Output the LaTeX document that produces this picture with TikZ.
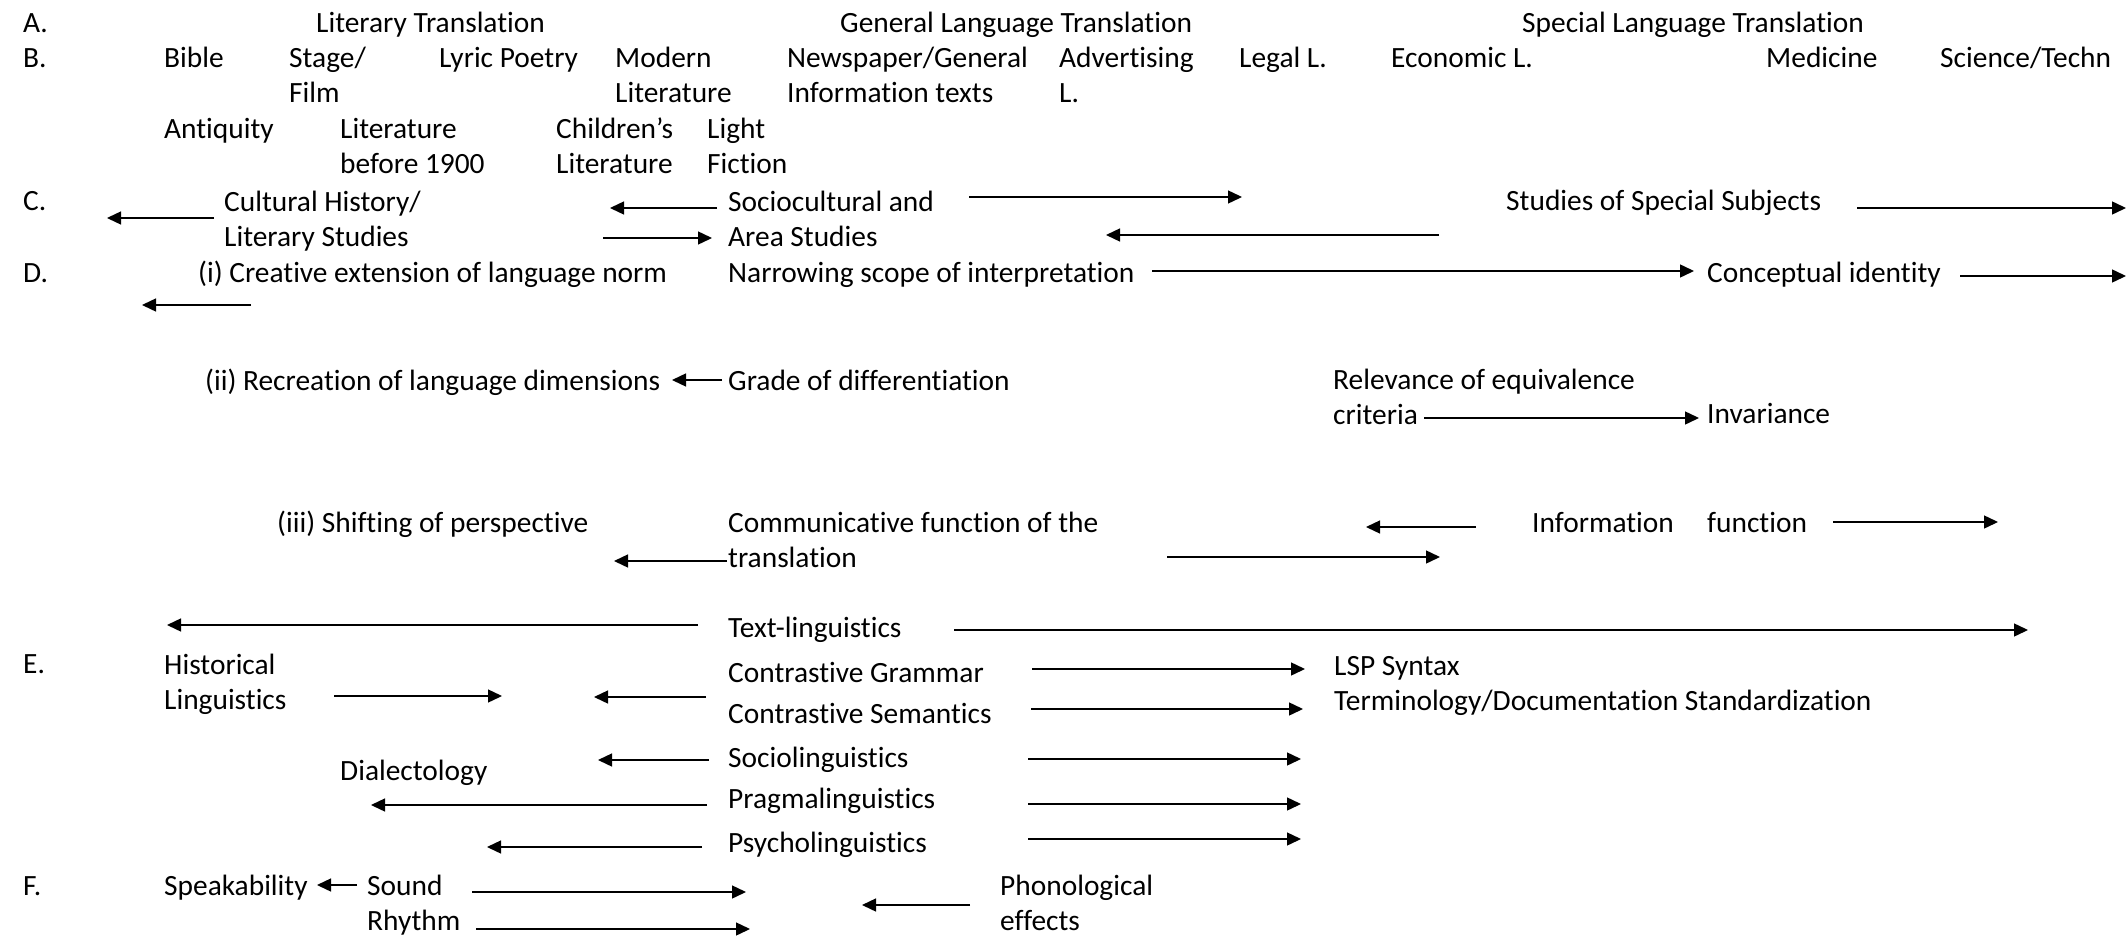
\documentclass[tikz,border=0pt]{standalone}
\usepackage{fontspec}
\setmainfont{Carlito}[Ligatures={NoCommon}]
\usepackage{tikz}
\usetikzlibrary{arrows.meta, positioning}
\tikzstyle{lbl} = [anchor=base west, inner sep=0pt, align=left, font=\fontsize{29.4}{35}\selectfont]
\tikzstyle{arrow} = [line width=1.4pt, -{Triangle[length=14pt,width=13pt]}]

\begin{document}
\begin{tikzpicture}[x=1pt, y=-1pt]
    \useasboundingbox (0,0) rectangle (2127,936);

    % Row letters
    \node (rowA) [lbl] at (23,33) {A.};
    \node (rowB) [lbl] at (23,68) {B.};
    \node (rowC) [lbl] at (23,211) {C.};
    \node (rowD) [lbl] at (23,282) {D.};
    \node (rowE) [lbl] at (23,673) {E.};
    \node (rowF) [lbl] at (23,895) {F.};

    % A. kinds of translation
    \node (littrans) [lbl] at (316,33) {Literary Translation};
    \node (gentrans) [lbl] at (840,33) {General Language Translation};
    \node (spectrans) [lbl] at (1522,33) {Special Language Translation};

    % B. text types (two-line nodes sit on their last line)
    \node (bible) [lbl] at (164,68) {Bible};
    \node (stage) [lbl] at (289,103) {Stage/\\Film};
    \node (lyric) [lbl] at (439,68) {Lyric Poetry};
    \node (modern) [lbl] at (615,103) {Modern\\Literature};
    \node (news) [lbl] at (787,103) {Newspaper/General\\Information texts};
    \node (advert) [lbl] at (1059,103) {Advertising\\L.};
    \node (legal) [lbl] at (1239,68) {Legal L.};
    \node (econ) [lbl] at (1391,68) {Economic L.};
    \node (medicine) [lbl] at (1766,68) {Medicine};
    \node (scitech) [lbl] at (1940,68) {Science/Techn};
    \node (antiq) [lbl] at (164,139) {Antiquity};
    \node (litold) [lbl] at (340,174) {Literature\\before 1900};
    \node (children) [lbl] at (556,174) {Children's\\Literature};
    \node (light) [lbl] at (707,174) {Light\\Fiction};

    % C. subject studies
    \node (cultural) [lbl] at (224,246) {Cultural History/\\Literary Studies};
    \node (sociocult) [lbl] at (728,246) {Sociocultural and\\Area Studies};
    \node (special) [lbl] at (1506,211) {Studies of Special Subjects};

    % D. translation aims
    \node (creative) [lbl] at (198,282) {(i) Creative extension of language norm};
    \node (narrow) [lbl] at (728,282) {Narrowing scope of interpretation};
    \node (concept) [lbl] at (1707,282) {Conceptual identity};
    \node (recreate) [lbl] at (205,390) {(ii) Recreation of language dimensions};
    \node (grade) [lbl] at (728,390) {Grade of differentiation};
    \node (relevance) [lbl] at (1333,424) {Relevance of equivalence\\criteria};
    \node (invariance) [lbl] at (1707,423) {Invariance};
    \node (shifting) [lbl] at (277,532) {(iii) Shifting of perspective};
    \node (communic) [lbl] at (728,567) {Communicative function of the\\translation};
    \node (inform) [lbl] at (1532,532) {Information};
    \node (function) [lbl] at (1707,532) {function};
    \node (textling) [lbl] at (728,637) {Text-linguistics};

    % E. linguistic disciplines
    \node (histling) [lbl] at (164,709) {Historical\\Linguistics};
    \node (contgram) [lbl] at (728,682) {Contrastive Grammar};
    \node (contsem) [lbl] at (728,723) {Contrastive Semantics};
    \node (lsp) [lbl] at (1334,710) {LSP Syntax\\Terminology/Documentation Standardization};
    \node (socioling) [lbl] at (728,767) {Sociolinguistics};
    \node (dialect) [lbl] at (340,780) {Dialectology};
    \node (pragma) [lbl] at (728,808) {Pragmalinguistics};
    \node (psycho) [lbl] at (728,852) {Psycholinguistics};

    % F. sound
    \node (speak) [lbl] at (164,895) {Speakability};
    \node (sound) [lbl] at (367,895) {Sound};
    \node (rhythm) [lbl] at (367,930) {Rhythm};
    \node (phono) [lbl] at (1000,930) {Phonological\\effects};

    % Arrow ends
    \coordinate (cultS) at (214,218);  \coordinate (cultE) at (107,218);
    \coordinate (socLS) at (717,208);  \coordinate (socLE) at (610,208);
    \coordinate (socRS) at (603,238);  \coordinate (socRE) at (712,238);
    \coordinate (genS) at (969,197);   \coordinate (genE) at (1242,197);
    \coordinate (areaS) at (1439,235); \coordinate (areaE) at (1106,235);
    \coordinate (specS) at (1857,208); \coordinate (specE) at (2126,208);
    \coordinate (creaS) at (251,305);  \coordinate (creaE) at (142,305);
    \coordinate (narrS) at (1152,271); \coordinate (narrE) at (1694,271);
    \coordinate (concS) at (1960,276); \coordinate (concE) at (2126,276);
    \coordinate (gradS) at (722,380);  \coordinate (gradE) at (672,380);
    \coordinate (critS) at (1424,418); \coordinate (critE) at (1699,418);
    \coordinate (commS) at (727,561);  \coordinate (commE) at (614,561);
    \coordinate (infLS) at (1476,527); \coordinate (infLE) at (1366,527);
    \coordinate (infRS) at (1167,557); \coordinate (infRE) at (1440,557);
    \coordinate (funcS) at (1833,522); \coordinate (funcE) at (1998,522);
    \coordinate (txtLS) at (698,625);  \coordinate (txtLE) at (167,625);
    \coordinate (txtRS) at (954,630);  \coordinate (txtRE) at (2028,630);
    \coordinate (histS) at (334,696);  \coordinate (histE) at (502,696);
    \coordinate (contS) at (706,697);  \coordinate (contE) at (594,697);
    \coordinate (gramS) at (1032,669); \coordinate (gramE) at (1305,669);
    \coordinate (semS) at (1031,709);  \coordinate (semE) at (1303,709);
    \coordinate (socioLS) at (709,760); \coordinate (socioLE) at (598,760);
    \coordinate (socioRS) at (1028,759); \coordinate (socioRE) at (1301,759);
    \coordinate (pragLS) at (707,805); \coordinate (pragLE) at (371,805);
    \coordinate (pragRS) at (1028,804); \coordinate (pragRE) at (1301,804);
    \coordinate (psyLS) at (702,847);  \coordinate (psyLE) at (487,847);
    \coordinate (psyRS) at (1028,839); \coordinate (psyRE) at (1301,839);
    \coordinate (soundLS) at (357,885); \coordinate (soundLE) at (317,885);
    \coordinate (soundRS) at (472,892); \coordinate (soundRE) at (746,892);
    \coordinate (rhyS) at (476,929);   \coordinate (rhyE) at (750,929);
    \coordinate (phonS) at (970,905);  \coordinate (phonE) at (862,905);

    % Arrows
    \draw [arrow] (cultS) -- (cultE);
    \draw [arrow] (socLS) -- (socLE);
    \draw [arrow] (socRS) -- (socRE);
    \draw [arrow] (genS) -- (genE);
    \draw [arrow] (areaS) -- (areaE);
    \draw [arrow] (specS) -- (specE);
    \draw [arrow] (creaS) -- (creaE);
    \draw [arrow] (narrS) -- (narrE);
    \draw [arrow] (concS) -- (concE);
    \draw [arrow] (gradS) -- (gradE);
    \draw [arrow] (critS) -- (critE);
    \draw [arrow] (commS) -- (commE);
    \draw [arrow] (infLS) -- (infLE);
    \draw [arrow] (infRS) -- (infRE);
    \draw [arrow] (funcS) -- (funcE);
    \draw [arrow] (txtLS) -- (txtLE);
    \draw [arrow] (txtRS) -- (txtRE);
    \draw [arrow] (histS) -- (histE);
    \draw [arrow] (contS) -- (contE);
    \draw [arrow] (gramS) -- (gramE);
    \draw [arrow] (semS) -- (semE);
    \draw [arrow] (socioLS) -- (socioLE);
    \draw [arrow] (socioRS) -- (socioRE);
    \draw [arrow] (pragLS) -- (pragLE);
    \draw [arrow] (pragRS) -- (pragRE);
    \draw [arrow] (psyLS) -- (psyLE);
    \draw [arrow] (psyRS) -- (psyRE);
    \draw [arrow] (soundLS) -- (soundLE);
    \draw [arrow] (soundRS) -- (soundRE);
    \draw [arrow] (rhyS) -- (rhyE);
    \draw [arrow] (phonS) -- (phonE);

\end{tikzpicture}
\end{document}
